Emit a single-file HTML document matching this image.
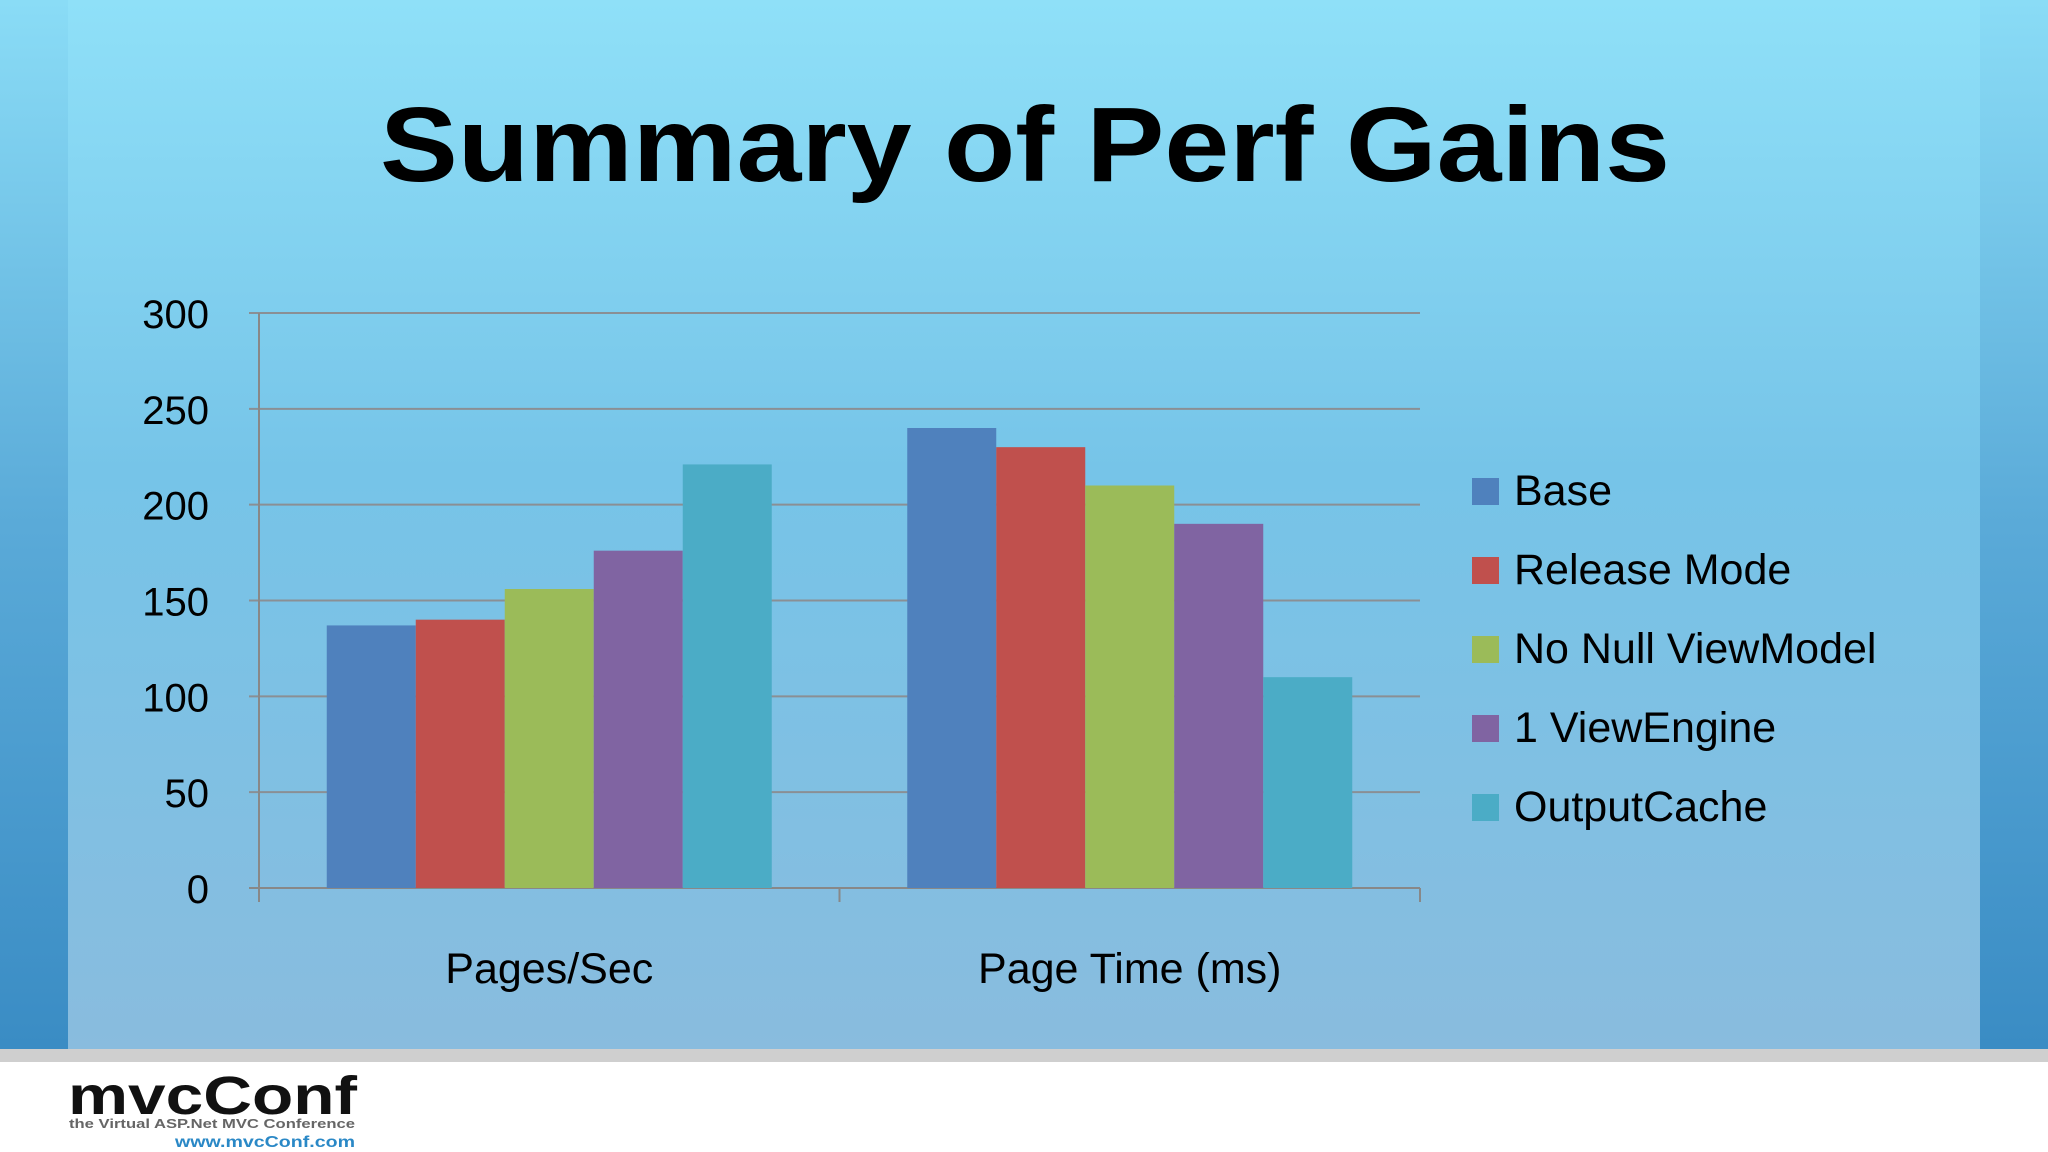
<!DOCTYPE html>
<html><head><meta charset="utf-8"><style>
html,body{margin:0;padding:0;width:2048px;height:1152px;overflow:hidden;background:#fff}
svg{display:block;font-family:"Liberation Sans",sans-serif}
</style></head><body>
<svg id="chart" width="2048" height="1152" viewBox="0 0 2048 1152">
<defs>
<linearGradient id="bg" x1="0" y1="0" x2="0" y2="1">
<stop offset="0" stop-color="#8fe0f8"/><stop offset="0.45" stop-color="#76c4e8"/><stop offset="1" stop-color="#89bcde"/>
</linearGradient>
<linearGradient id="side" x1="0" y1="0" x2="0" y2="1">
<stop offset="0" stop-color="#8adcf6"/><stop offset="0.5" stop-color="#5aaad8"/><stop offset="1" stop-color="#3a8cc4"/>
</linearGradient>
</defs>
<rect x="0" y="0" width="2048" height="1049" fill="url(#bg)"/>
<rect x="0" y="0" width="68" height="1049" fill="url(#side)"/>
<rect x="1980" y="0" width="68" height="1049" fill="url(#side)"/>
<rect x="0" y="1049" width="2048" height="13" fill="#cfcfcf"/>
<text x="1025" y="181" text-anchor="middle" font-size="106" font-weight="900" textLength="1290" lengthAdjust="spacingAndGlyphs" fill="#000">Summary of Perf Gains</text>
<g id="plot"></g>
<g>
<text x="68" y="1114" font-size="54" font-weight="900" textLength="289" lengthAdjust="spacingAndGlyphs" fill="#111">mvcConf</text>
<text x="69" y="1128" font-size="13" font-weight="bold" textLength="286" lengthAdjust="spacingAndGlyphs" fill="#666">the Virtual ASP.Net MVC Conference</text>
<text x="355" y="1147" text-anchor="end" font-size="16" font-weight="bold" textLength="180" lengthAdjust="spacingAndGlyphs" fill="#2a88c6">www.mvcConf.com</text>
</g>
</svg>
<script>
const categories = ["Pages/Sec", "Page Time (ms)"];
const seriesNames = ["Base", "Release Mode", "No Null ViewModel", "1 ViewEngine", "OutputCache"];
const seriesColors = ["#4f81bd", "#c0504d", "#9bbb59", "#8064a2", "#4bacc6"];
const baseVals = [137, 240];
const releaseVals = [140, 230];
const noNullVals = [156, 210];
const oneEngineVals = [176, 190];
const outputCacheVals = [221, 110];
const yTicks = [0, 50, 100, 150, 200, 250, 300];

const series = [baseVals, releaseVals, noNullVals, oneEngineVals, outputCacheVals];
const NS = "http://www.w3.org/2000/svg";
const g = document.getElementById('plot');
const L = 259, R = 1420, T = 313, B = 888, yMax = 300;
const y = v => B - (v / yMax) * (B - T);
const catW = (R - L) / categories.length;
const barW = 89;
function mk(tag, attrs, parent) {
  const e = document.createElementNS(NS, tag);
  for (const k in attrs) e.setAttribute(k, attrs[k]);
  (parent || g).appendChild(e);
  return e;
}
yTicks.forEach(t => {
  const ln = mk('line', {x1: L - 10, x2: R, y1: y(t), y2: y(t), stroke: t === 0 ? '#888' : '#8a8f94', 'stroke-width': 2});
  
  
  const tx = mk('text', {x: 209, y: y(t) + 15, 'text-anchor': 'end', 'font-size': 40, fill: '#000'});
  tx.textContent = t;
  
  
});
const ax = mk('line', {x1: L, x2: L, y1: T, y2: B + 14, stroke: '#888', 'stroke-width': 2});


for (let i = 0; i <= categories.length; i++) {
  const tk = mk('line', {x1: L + i * catW, x2: L + i * catW, y1: B, y2: B + 14, stroke: '#888', 'stroke-width': 2});
  
  
}
categories.forEach((c, ci) => {
  const groupW = barW * series.length;
  const x0 = L + ci * catW + (catW - groupW) / 2;
  series.forEach((s, si) => {
    const r = mk('rect', {x: x0 + si * barW, y: y(s[ci]), width: barW, height: B - y(s[ci]), fill: seriesColors[si]});
    
    
  });
  const lbl = mk('text', {x: L + ci * catW + catW / 2, y: 983, 'text-anchor': 'middle', 'font-size': 43, fill: '#000'});
  lbl.textContent = c;
  
  
});
seriesNames.forEach((n, i) => {
  const ly = 478 + i * 79;
  const sq = mk('rect', {x: 1472, y: ly, width: 27, height: 27, fill: seriesColors[i]});
  
  
  const tx = mk('text', {x: 1514, y: ly + 27, 'font-size': 43, fill: '#000'});
  tx.textContent = n;
  
  
});
</script>
</body></html>
